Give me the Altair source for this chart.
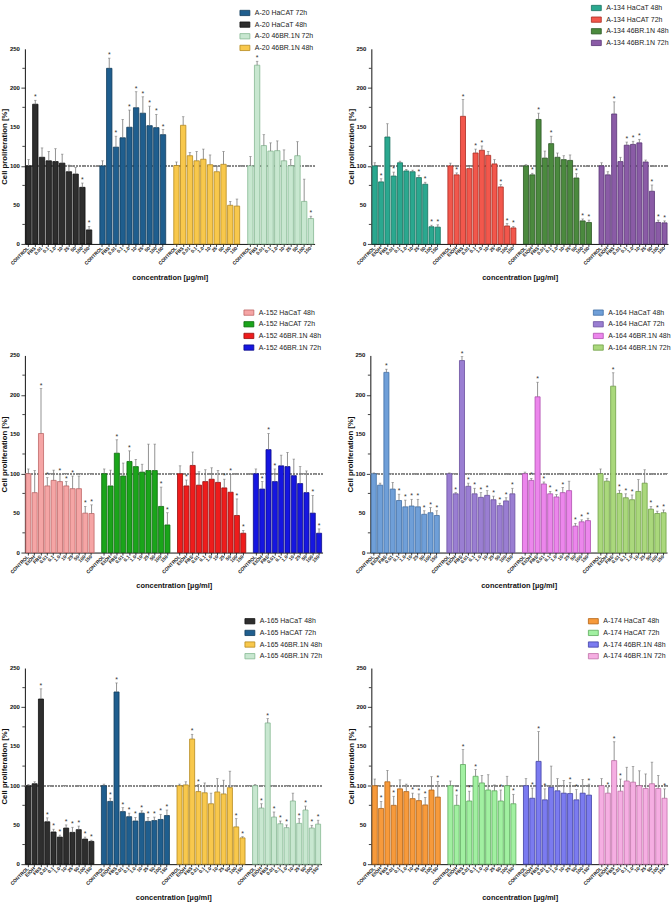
import altair as alt
import pandas as pd

FONT = "Liberation Sans"

# concentration labels on the x axis
CATS_A20 = ["CONTROL", "FBS", "0.01", "0.1", "1.0", "10", "25", "50", "100", "150"]
CATS = ["CONTROL", "EtOH", "FBS", "0.01", "0.1", "1.0", "10", "25", "50", "100", "150"]

# cell line / time point groups, left to right
GROUPS = ["HaCaT 48h", "HaCAT 72h", "46BR.1N 48h", "46BR.1N 72h"]

# ---- A-20 ----
A20_MEAN = [
    [100, 179, 111, 106.5, 105.5, 103.5, 92.5, 89.5, 72.5, 18],
    [100, 225, 124, 136, 149.5, 174.5, 167.5, 151.5, 149, 140],
    [100.5, 152, 113, 106.5, 108.5, 101.5, 92.5, 102, 49.5, 48.5],
    [100, 229, 126, 119, 119.5, 106.5, 100, 113, 54.5, 32.5],
]
A20_SD = [
    [8, 5, 12, 12, 16.5, 11.5, 8.5, 8.5, 5.5, 4.5],
    [6.5, 13, 14, 23.5, 22, 20.5, 21, 25, 17, 6.5],
    [4.5, 11, 4, 12, 13, 12.5, 6.5, 16.5, 5, 9],
    [12, 5, 14, 10.5, 12.5, 14, 8, 18, 28.5, 3],
]
A20_SIG = [
    [0, 1, 0, 0, 0, 0, 0, 0, 1, 1],
    [0, 1, 1, 0, 1, 1, 1, 1, 1, 1],
    [0, 0, 0, 0, 0, 0, 0, 0, 0, 0],
    [0, 1, 0, 0, 0, 0, 0, 0, 0, 1],
]

# ---- A-134 ----
A134_MEAN = [
    [100, 79.5, 137, 87, 104, 93.5, 92.5, 85, 76.5, 22, 21.5],
    [100, 88.5, 163.5, 96.5, 116.5, 120, 113.5, 102.5, 73, 23, 20.5],
    [100, 88.5, 159.5, 110, 128.5, 111, 108, 107, 84.5, 29.5, 27.5],
    [100, 88.5, 166.5, 105.5, 126.5, 127.5, 129.5, 105, 67.5, 27.5, 27],
]
A134_SD = [
    [4, 4, 17, 5, 2, 2, 2, 3, 2.5, 2, 3],
    [3.5, 2.5, 21.5, 4, 5, 5.5, 5, 5.5, 3, 3, 2],
    [1.5, 2, 8, 9, 9.5, 5.5, 5, 7, 5.5, 2.5, 3],
    [4, 4, 15.5, 5.5, 4, 4, 4.5, 2.5, 8, 3, 2.5],
]
A134_SIG = [
    [0, 1, 0, 1, 0, 0, 0, 1, 1, 1, 1],
    [0, 1, 1, 0, 1, 1, 0, 0, 1, 1, 1],
    [0, 1, 1, 0, 1, 0, 0, 0, 1, 1, 1],
    [0, 0, 1, 0, 1, 1, 1, 0, 1, 1, 1],
]

# ---- A-152 ----
A152_MEAN = [
    [100, 76, 151, 84.5, 91.5, 90, 84.5, 81, 81, 50, 49.5],
    [100, 84.5, 126, 97, 115.5, 109, 102, 104, 104, 58.5, 35],
    [100, 84.5, 110.5, 85.5, 90, 93, 89, 82, 76.5, 47, 24.5],
    [100, 80.5, 130.5, 90, 110, 109, 97.5, 87.5, 76, 50, 24.5],
]
A152_SD = [
    [6, 28, 57, 10.5, 13, 9, 5.5, 16, 16, 8.5, 11],
    [6, 20, 17, 16.5, 13.5, 9, 10, 33.5, 33.5, 24.5, 15.5],
    [10, 7.5, 17, 17, 15, 14.5, 15, 11, 22.5, 21, 3.5],
    [6, 9.5, 20.5, 16, 13.5, 18, 21, 21.5, 27.5, 22.5, 5.5],
]
A152_SIG = [
    [0, 0, 1, 1, 0, 1, 1, 1, 0, 1, 1],
    [0, 0, 1, 0, 1, 0, 0, 0, 0, 1, 1],
    [0, 1, 0, 0, 0, 0, 0, 1, 1, 1, 1],
    [0, 1, 1, 1, 0, 0, 0, 0, 0, 1, 1],
]

# ---- A-164 ----
A164_MEAN = [
    [100, 85.5, 228.5, 80.5, 66, 58, 59, 58, 48.5, 50.5, 47],
    [100, 74.5, 243.5, 84, 74.5, 70, 72.5, 67, 59.5, 65.5, 74.5],
    [100, 91.5, 197.5, 87, 74.5, 70.5, 76, 78.5, 33.5, 39, 40.5],
    [100, 90.5, 211, 75, 69.5, 67, 77.5, 88, 55, 49.5, 50.5],
]
A164_SD = [
    [1, 2.5, 4, 8.5, 8, 8.5, 8.5, 9.5, 4.5, 6.5, 6],
    [1, 1.5, 5, 4, 7, 6, 6, 4.5, 3, 4, 7],
    [2, 2.5, 18.5, 2.5, 3, 3, 6.5, 12, 3.5, 2.5, 3],
    [6, 3.5, 17, 4, 5, 6, 15, 17, 3.5, 3, 3.5],
]
A164_SIG = [
    [0, 0, 1, 0, 1, 1, 1, 1, 1, 1, 1],
    [0, 1, 1, 1, 1, 1, 1, 1, 1, 1, 1],
    [0, 1, 1, 1, 1, 1, 1, 0, 1, 1, 1],
    [0, 0, 1, 1, 1, 1, 0, 0, 1, 1, 1],
]

# ---- A-165 ----
A165_MEAN = [
    [100, 102.5, 210.5, 54, 41, 34.5, 46, 40.5, 44, 32, 29],
    [100, 80, 219.5, 67, 60.5, 55, 65, 54.5, 55.5, 57, 62],
    [100, 101, 159.5, 92.5, 91, 77, 92, 89.5, 97.5, 47.5, 33.5],
    [100, 71.5, 180, 60, 51.5, 46.5, 80.5, 52, 69, 46, 51],
]
A165_SD = [
    [1.5, 2.5, 13, 5, 3.5, 2.5, 4, 6.5, 4.5, 2.5, 1.5],
    [2, 4, 11.5, 5, 4.5, 4.5, 3, 5, 4.5, 6.5, 7],
    [2, 4, 6, 9, 12.5, 13.5, 17, 17.5, 21, 10.5, 1.5],
    [1.5, 5.5, 5.5, 6.5, 3.5, 3.5, 10, 6, 5, 3.5, 5],
]
A165_SIG = [
    [0, 0, 1, 1, 1, 1, 1, 1, 1, 1, 1],
    [0, 1, 1, 1, 1, 1, 1, 1, 1, 1, 1],
    [0, 0, 1, 1, 0, 0, 0, 0, 0, 1, 1],
    [0, 1, 1, 1, 1, 1, 0, 1, 1, 1, 1],
]

# ---- A-174 ----
A174_MEAN = [
    [100, 71, 105, 75, 96, 92.5, 83.5, 81, 75.5, 94.5, 85.5],
    [100, 75, 127, 80.5, 112, 103.5, 94.5, 93.5, 80.5, 100, 77],
    [100, 84, 131, 82, 98, 93.5, 90.5, 90, 82, 90.5, 88],
    [100, 90.5, 132, 93, 106, 104.5, 100, 96.5, 102.5, 96.5, 84],
]
A174_SD = [
    [8.5, 9, 14.5, 11.5, 11.5, 9.5, 7, 8.5, 9.5, 17, 20],
    [6, 13, 19, 12.5, 8.5, 9.5, 19.5, 7.5, 14, 12, 12],
    [9, 13, 38, 14, 27, 15.5, 16, 14, 13, 17.5, 14],
    [9, 7, 24, 15.5, 17.5, 20, 19, 18.5, 27.5, 16.5, 12],
]
A174_SIG = [
    [0, 1, 0, 1, 0, 0, 1, 1, 1, 0, 1],
    [0, 1, 1, 1, 1, 0, 0, 0, 1, 0, 1],
    [0, 1, 1, 1, 0, 0, 0, 1, 1, 0, 1],
    [0, 1, 1, 1, 0, 0, 0, 0, 0, 0, 1],
]

# fill / outline colours per group (same order as GROUPS)
FILL_DARK = ["#2e2e2e", "#1f5e8e", "#f8c84c", "#c8e7d0"]
EDGE_DARK = ["#111111", "#123c5c", "#b68a1e", "#86b893"]
FILL_134 = ["#2aa88f", "#f2574c", "#4b8a3e", "#8a5ba6"]
EDGE_134 = ["#17705e", "#aa2a20", "#2b5623", "#573374"]
FILL_152 = ["#f5a5a5", "#1aa51a", "#ee1c1c", "#1616e0"]
EDGE_152 = ["#c06868", "#0c6a0c", "#980d0d", "#0b0b88"]
FILL_164 = ["#6f9fd8", "#9a7ed2", "#ec86ec", "#aad87c"]
EDGE_164 = ["#3f6ea6", "#6a4f9f", "#b050b0", "#6f9f45"]
FILL_174 = ["#f79a3b", "#a1f0a1", "#7b7bf0", "#f5aee2"]
EDGE_174 = ["#b56312", "#5cab5c", "#4040a6", "#c070a8"]

Y_MAJOR = [0, 50, 100, 150, 200, 250]
Y_MINOR = [25, 75, 125, 175, 225]
Y_TITLE = "Cell proliferation [%]"


def panel(prefix, cats, means, sds, sigs, fills, edges, legend_idx,
          width, height, lx, ly):
    recs, domain, ticks = [], [], []
    for gi, grp in enumerate(GROUPS):
        if gi:
            domain.append(f"gap{gi}")
        for ci, cat in enumerate(cats):
            key = f"{gi}|{cat}"
            domain.append(key)
            ticks.append(key)
            m, s = means[gi][ci], sds[gi][ci]
            recs.append({
                "key": key,
                "series": f"{prefix} {grp}",
                "mean": m,
                "top": m + s,
                "star": "*" if sigs[gi][ci] else "",
            })
    df = pd.DataFrame(recs)
    names = [f"{prefix} {GROUPS[i]}" for i in legend_idx]
    fill_rng = [fills[i] for i in legend_idx]
    edge_rng = [edges[i] for i in legend_idx]

    x = alt.X(
        "key:N",
        scale=alt.Scale(domain=domain, paddingInner=0.2, paddingOuter=0.15),
        axis=alt.Axis(
            values=ticks,
            labelExpr="split(datum.value, '|')[1]",
            labelAngle=-45, labelAlign="right", labelBaseline="middle",
            labelFontSize=4.8, labelFontWeight="bold", labelPadding=1,
            labelOverlap=False, tickSize=2.5, tickWidth=0.8,
            titlePadding=8,
        ),
        title="concentration [µg/ml]",
    )
    y_scale = alt.Scale(domain=[0, 250], nice=False)
    # the axis draws line, ticks and title; its numbers come from a text layer
    y_axis = alt.Axis(
        values=Y_MAJOR, labels=False, tickSize=4, tickWidth=0.8,
        titlePadding=12,
    )

    legend = alt.Legend(
        orient="none", legendX=lx, legendY=ly, title=None,
        symbolType="M-1.5,-0.8H1.5V0.8H-1.5Z", symbolSize=44,
        symbolStrokeWidth=0.8, labelFontSize=7, labelOffset=6,
        rowPadding=1.7, padding=0, labelColor="#222",
    )

    base = alt.Chart(df)
    ref = base.mark_rule(color="#8a8a8a", strokeDash=[1.2, 1.6], strokeWidth=0.8).encode(
        y=alt.YDatum(100, scale=y_scale, axis=y_axis, title=Y_TITLE)
    )
    # short unlabeled ticks between the labeled ones
    minor = alt.Chart(pd.DataFrame({"v": Y_MINOR})).mark_rule(
        color="#111", strokeWidth=0.8
    ).encode(
        y=alt.Y("v:Q", scale=y_scale, axis=y_axis, title=Y_TITLE),
        x=alt.value(-2.5), x2=alt.value(0),
    )
    ylabels = alt.Chart(pd.DataFrame({"v": Y_MAJOR})).mark_text(
        align="right", baseline="middle", fontSize=6, fontWeight="bold",
        color="#111", font=FONT,
    ).encode(
        y=alt.Y("v:Q", scale=y_scale, axis=y_axis, title=Y_TITLE),
        x=alt.value(-5), text="v:N",
    )
    bars = base.mark_bar(strokeWidth=0.8).encode(
        x=x,
        y=alt.Y("mean:Q", scale=y_scale, axis=y_axis, title=Y_TITLE),
        fill=alt.Fill("series:N", scale=alt.Scale(domain=names, range=fill_rng), legend=legend),
        stroke=alt.Stroke("series:N", scale=alt.Scale(domain=names, range=edge_rng), legend=legend),
    )
    err = base.mark_rule(color="#777", strokeWidth=0.8).encode(
        x="key:N", y="mean:Q", y2="top:Q"
    )
    cap = base.mark_tick(color="#777", thickness=0.8, size=2.5).encode(
        x="key:N", y="top:Q"
    )
    stars = base.transform_filter("datum.star != ''").mark_text(
        fontSize=7, baseline="middle", dy=-3, color="#333"
    ).encode(x="key:N", y="top:Q", text="star:N")

    return alt.layer(ref, minor, ylabels, bars, err, cap, stars).properties(
        width=width, height=height
    )


p1 = panel("A-20", CATS_A20, A20_MEAN, A20_SD, A20_SIG, FILL_DARK, EDGE_DARK,
           [1, 0, 3, 2], 291, 196, 217, -40)
p2 = panel("A-134", CATS, A134_MEAN, A134_SD, A134_SIG, FILL_134, EDGE_134,
           [0, 1, 2, 3], 298, 196, 222, -45)
p3 = panel("A-152", CATS, A152_MEAN, A152_SD, A152_SIG, FILL_152, EDGE_152,
           [0, 1, 2, 3], 299, 198, 221, -47)
p4 = panel("A-164", CATS, A164_MEAN, A164_SD, A164_SIG, FILL_164, EDGE_164,
           [0, 1, 2, 3], 298, 198, 225, -47)
p5 = panel("A-165", CATS, A165_MEAN, A165_SD, A165_SIG, FILL_DARK, EDGE_DARK,
           [0, 1, 2, 3], 298, 197, 222, -51)
p6 = panel("A-174", CATS, A174_MEAN, A174_SD, A174_SIG, FILL_174, EDGE_174,
           [0, 1, 2, 3], 298, 197, 219, -51)

indep = dict(fill="independent", stroke="independent")
row1 = alt.hconcat(p1, p2, spacing=31).resolve_scale(**indep)
row2 = alt.hconcat(p3, p4, spacing=22).resolve_scale(**indep)
row3 = alt.hconcat(p5, p6, spacing=24).resolve_scale(**indep)

chart = (
    alt.vconcat(row1, row2, row3, spacing=27)
    .resolve_scale(**indep)
    .properties(padding={"left": 0, "top": 2, "right": 0, "bottom": 0}, background="white")
    .configure(font=FONT)
    .configure_view(stroke=None)
    .configure_axis(
        grid=False, domainColor="#111", tickColor="#111", domainWidth=1,
        labelColor="#111", titleColor="#111", titleFontWeight="bold",
        labelFont=FONT, titleFont=FONT,
    )
    .configure_axisX(titleFontSize=7.5)
    .configure_axisY(titleFontSize=7.8)
    .configure_legend(labelFont=FONT)
)

chart.save("out.html", embed_options={"renderer": "svg", "actions": False})
